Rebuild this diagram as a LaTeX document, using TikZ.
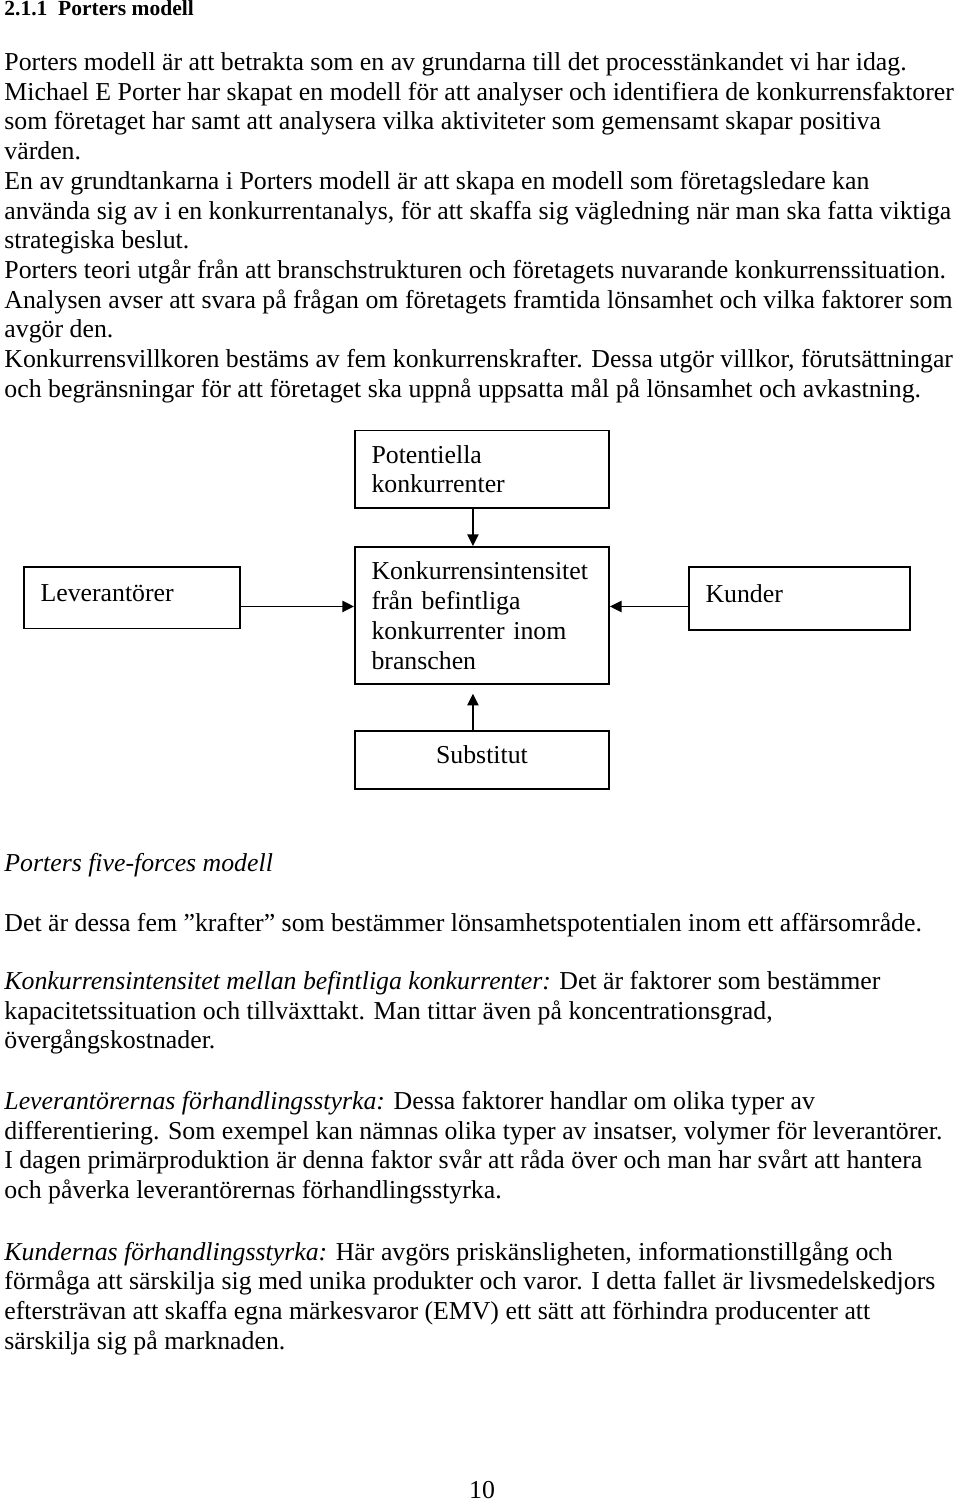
\documentclass[tikz,border=0pt]{standalone}
\usepackage{fontspec}
\setmainfont{Liberation Serif}
\usetikzlibrary{calc,arrows.meta}

\newcommand{\brod}{\fontsize{12}{13.8}\selectfont}

\tikzset{
  rad/.style={anchor=base west, inner sep=0pt, font=\brod},
  ruta/.style={draw, line width=0.9pt, anchor=north west, inner xsep=7.7pt, inner ysep=0pt, font=\brod, align=left},
  enrad/.style={ruta, text height=8pt, text depth=4.5pt},
  pil/.style={line width=0.8pt, -{Triangle[length=5.4pt,width=5.2pt]}}
}

\begin{document}
\begin{tikzpicture}[x=0.465pt,y=-0.465pt]
    \useasboundingbox (0,0) rectangle (960,1509);

    % rubrik
    \node[rad, font=\fontsize{10}{12}\selectfont\bfseries] (rubrik) at (4,15) {\makebox[25pt][l]{2.1.1}Porters modell};

    % inledande text
    \foreach \t [count=\i from 0] in {
        {Porters modell är att betrakta som en av grundarna till det processtänkandet vi har idag.},
        {Michael E Porter har skapat en modell för att analyser och identifiera de konkurrensfaktorer},
        {som företaget har samt att analysera vilka aktiviteter som gemensamt skapar positiva},
        {värden.},
        {En av grundtankarna i Porters modell är att skapa en modell som företagsledare kan},
        {använda sig av i en konkurrentanalys, för att skaffa sig vägledning när man ska fatta viktiga},
        {strategiska beslut.},
        {Porters teori utgår från att branschstrukturen och företagets nuvarande konkurrenssituation.},
        {Analysen avser att svara på frågan om företagets framtida lönsamhet och vilka faktorer som},
        {avgör den.},
        {Konkurrensvillkoren bestäms av fem konkurrenskrafter. Dessa utgör villkor, förutsättningar},
        {och begränsningar för att företaget ska uppnå uppsatta mål på lönsamhet och avkastning.}}
        \node[rad] (inl\i) at (4,70.5+29.7*\i) {\t};

    % rutorna
    \node[ruta, text width=102.7pt, minimum width=118.1pt, minimum height=36pt] (pot) at (354,429.5) {Potentiella\\konkurrenter};
    \node[ruta, text width=102.7pt, minimum width=118.1pt, minimum height=63.9pt] (ctr) at (354,546) {Konkurrensintensitet\\från befintliga\\konkurrenter inom\\branschen};
    \node[enrad, text width=85pt, minimum width=100.4pt, minimum height=28.6pt] (lev) at (23,566) {Leverantörer};
    \node[enrad, text width=87.4pt, minimum width=102.8pt, minimum height=29.3pt] (kun) at (688,566) {Kunder};
    \node[enrad, minimum width=118.1pt, minimum height=27pt] (sub) at (354,730) {Substitut};

    % pilarna
    \coordinate (levut) at ($(lev.east)+(0,8.75)$);
    \coordinate (kunut) at ($(kun.west)+(0,8)$);
    \draw[pil] ($(pot.south)+(-9,0)$) -- ($(ctr.north)+(-9,0)$);
    \draw[pil, shorten >=3.9pt] ($(sub.north)+(-9,0)$) -- ($(ctr.south)+(-9,0)$);
    \draw[pil] (levut) -- (levut -| ctr.west);
    \draw[pil] (kunut) -- (kunut -| ctr.east);

    % de fem krafterna
    \node[rad] (ffm) at (4,871.5) {\textit{Porters five-forces modell}};
    \node[rad] (det) at (4,931) {Det är dessa fem ”krafter” som bestämmer lönsamhetspotentialen inom ett affärsområde.};

    \foreach \t [count=\i from 0] in {
        {\textit{Konkurrensintensitet mellan befintliga konkurrenter:} Det är faktorer som bestämmer},
        {kapacitetssituation och tillväxttakt. Man tittar även på koncentrationsgrad,},
        {övergångskostnader.}}
        \node[rad] (konk\i) at (4,989.5+29.7*\i) {\t};

    \foreach \t [count=\i from 0] in {
        {\textit{Leverantörernas förhandlingsstyrka:} Dessa faktorer handlar om olika typer av},
        {differentiering. Som exempel kan nämnas olika typer av insatser, volymer för leverantörer.},
        {I dagen primärproduktion är denna faktor svår att råda över och man har svårt att hantera},
        {och påverka leverantörernas förhandlingsstyrka.}}
        \node[rad] (levt\i) at (4,1109.5+29.7*\i) {\t};

    \foreach \t [count=\i from 0] in {
        {\textit{Kundernas förhandlingsstyrka:} Här avgörs priskänsligheten, informationstillgång och},
        {förmåga att särskilja sig med unika produkter och varor. I detta fallet är livsmedelskedjors},
        {eftersträvan att skaffa egna märkesvaror (EMV) ett sätt att förhindra producenter att},
        {särskilja sig på marknaden.}}
        \node[rad] (kund\i) at (4,1260+29.7*\i) {\t};

    % sidnummer
    \node[anchor=base, inner sep=0pt, font=\brod] (sida) at (482,1498) {10};

\end{tikzpicture}
\end{document}
